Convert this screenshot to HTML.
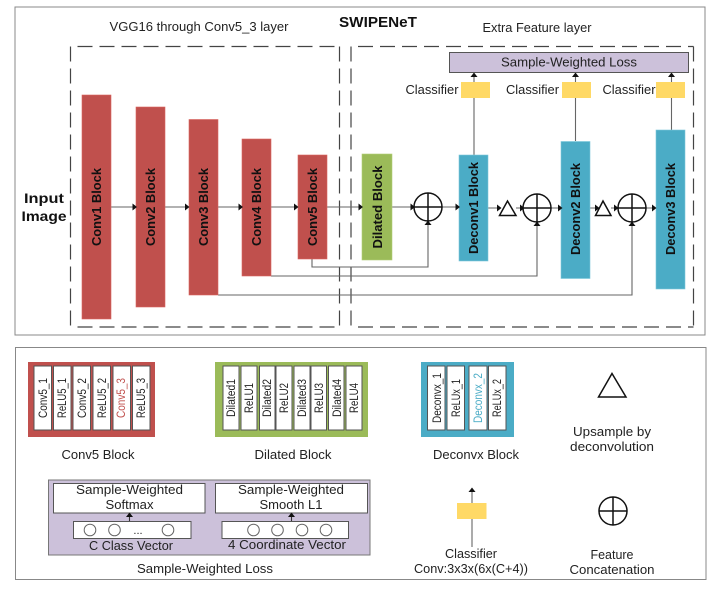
<!DOCTYPE html>
<html><head><meta charset="utf-8"><style>
html,body{margin:0;padding:0;background:#fff;width:718px;height:589px;overflow:hidden}
svg{display:block;filter:blur(.3px)}
text{font-family:"Liberation Sans","DejaVu Sans",sans-serif;fill:#222;font-size:12.5px;text-anchor:middle}
.b{font-weight:bold;fill:#111;font-size:13px}
.v{font-size:11.5px}
.l{fill:none;stroke:#666;stroke-width:1.1}
.k{fill:none;stroke:#111;stroke-width:1.5}
.cell{fill:#fff;stroke:#555;stroke-width:1}
.d{fill:none;stroke:#444;stroke-width:1.2;stroke-dasharray:15 7}
.t{stroke-dashoffset:15}
</style></head><body>
<svg width="718" height="589" viewBox="0 0 718 589" xmlns="http://www.w3.org/2000/svg">
<defs>
<polygon id="ar" points="0,-3.5 4.500,0 0,3.500" fill="#111"/>
<polygon id="au" points="-3.500,0 0,-4.500 3.500,0" fill="#111"/>
</defs>
<rect x="15" y="7" width="690" height="328" fill="#fff" stroke="#888" stroke-width="1"/>
<rect x="15.500" y="347.500" width="690.500" height="232" fill="#fff" stroke="#888" stroke-width="1"/>
<path class="d t" d="M70.500 46.500H339.500"/>
<path class="d" d="M70.500 46.500V327"/>
<path class="d" d="M339.500 46.500V327"/>
<path class="d t" d="M70.500 327H339.500"/>
<path class="d t" d="M351 46.500H693.500"/>
<path class="d" d="M351 46.500V327"/>
<path class="d" d="M693.500 46.500V327"/>
<path class="d t" d="M351 327H693.500"/>

<text x="199" y="31" textLength="179" lengthAdjust="spacingAndGlyphs">VGG16 through Conv5_3 layer</text>
<text x="378" y="27" class="b" style="font-size:15px" textLength="78" lengthAdjust="spacingAndGlyphs">SWIPENeT</text>
<text x="537" y="32" textLength="109" lengthAdjust="spacingAndGlyphs">Extra Feature layer</text>
<text x="44" y="203" class="b" style="font-size:14px" textLength="40" lengthAdjust="spacingAndGlyphs">Input</text>
<text x="44" y="221" class="b" style="font-size:14px" textLength="45" lengthAdjust="spacingAndGlyphs">Image</text>

<!-- connectors -->
<path class="l" d="M111 207H459M488 208H499M516 208H523M551 208H561M590 208H595M611 208H618M646 208H656"/>
<path class="l" d="M312 259V267H428V222M271 276H537V222M218 295H632V222"/>
<path class="l" d="M474 155V77M575.500 141V77M671.500 130V77"/>

<!-- blocks -->
<g fill="#c0504d" stroke="#d9645f" stroke-width=".6">
<rect x="82" y="95" width="29" height="224"/>
<rect x="136" y="107" width="29" height="200"/>
<rect x="189" y="119.500" width="29" height="175.500"/>
<rect x="242" y="139" width="29" height="137"/>
<rect x="298" y="155" width="29" height="104"/>
</g>
<rect x="362" y="154" width="30" height="106" fill="#9bbb59" stroke="#b4cf7a" stroke-width=".6"/>
<g fill="#4bacc6" stroke="#7cc8dc" stroke-width=".6">
<rect x="459" y="155" width="29" height="106"/>
<rect x="561" y="141.500" width="29" height="137"/>
<rect x="656" y="130" width="29" height="159"/>
</g>

<g>
<text class="b" transform="translate(101,207) rotate(-90)" textLength="78" lengthAdjust="spacingAndGlyphs">Conv1 Block</text>
<text class="b" transform="translate(155,207) rotate(-90)" textLength="78" lengthAdjust="spacingAndGlyphs">Conv2 Block</text>
<text class="b" transform="translate(208,207) rotate(-90)" textLength="78" lengthAdjust="spacingAndGlyphs">Conv3 Block</text>
<text class="b" transform="translate(261,207) rotate(-90)" textLength="78" lengthAdjust="spacingAndGlyphs">Conv4 Block</text>
<text class="b" transform="translate(317,207) rotate(-90)" textLength="78" lengthAdjust="spacingAndGlyphs">Conv5 Block</text>
<text class="b" transform="translate(382,207) rotate(-90)" textLength="83" lengthAdjust="spacingAndGlyphs">Dilated Block</text>
<text class="b" transform="translate(478,208) rotate(-90)" textLength="92" lengthAdjust="spacingAndGlyphs">Deconv1 Block</text>
<text class="b" transform="translate(580,209) rotate(-90)" textLength="92" lengthAdjust="spacingAndGlyphs">Deconv2 Block</text>
<text class="b" transform="translate(675,209) rotate(-90)" textLength="92" lengthAdjust="spacingAndGlyphs">Deconv3 Block</text>
</g>

<!-- arrowheads -->
<use href="#ar" x="132.500" y="207"/><use href="#ar" x="185" y="207"/><use href="#ar" x="238.500" y="207"/><use href="#ar" x="294" y="207"/><use href="#ar" x="358.500" y="207"/>
<use href="#ar" x="410.500" y="207"/><use href="#ar" x="455.500" y="207"/>
<use href="#ar" x="497" y="208"/><use href="#ar" x="520" y="208"/><use href="#ar" x="558" y="208"/>
<use href="#ar" x="595" y="208"/><use href="#ar" x="614" y="208"/><use href="#ar" x="652" y="208"/>
<use href="#au" x="428" y="225"/><use href="#au" x="537" y="226"/><use href="#au" x="632" y="226"/>
<use href="#au" x="474" y="77"/><use href="#au" x="575.500" y="77"/><use href="#au" x="671.500" y="77"/>

<!-- concat & upsample -->
<g class="k">
<circle cx="428" cy="207" r="14" fill="#fff"/><path d="M414 207H442M428 193V221"/>
<circle cx="537" cy="208" r="14" fill="#fff"/><path d="M523 208H551M537 194V222"/>
<circle cx="632" cy="208" r="14" fill="#fff"/><path d="M618 208H646M632 194V222"/>
<polygon points="507.500,201 516,215.500 499.500,215.500" fill="#fff"/>
<polygon points="603,201 611,215.500 595.500,215.500" fill="#fff"/>
</g>

<!-- loss + classifiers -->
<rect x="449.500" y="52.500" width="239" height="20" fill="#ccc1da" stroke="#555" stroke-width="1"/>
<text x="569" y="66.500" textLength="136" lengthAdjust="spacingAndGlyphs">Sample-Weighted Loss</text>
<g fill="#ffd966">
<rect x="461" y="82" width="29" height="16"/>
<rect x="562" y="82" width="29" height="16"/>
<rect x="656" y="82" width="29" height="16"/>
</g>
<text x="432" y="94" textLength="53" lengthAdjust="spacingAndGlyphs">Classifier</text>
<text x="532.500" y="94" textLength="53" lengthAdjust="spacingAndGlyphs">Classifier</text>
<text x="629" y="94" textLength="53" lengthAdjust="spacingAndGlyphs">Classifier</text>

<!-- legend: conv5 -->
<rect x="28" y="362" width="127" height="75" fill="#c0504d"/>
<g class="cell">
<rect x="34" y="366" width="17.500" height="64"/><rect x="53.500" y="366" width="17.500" height="64"/><rect x="73" y="366" width="17.500" height="64"/><rect x="93" y="366" width="17.500" height="64"/><rect x="113" y="366" width="17.500" height="64"/><rect x="132.500" y="366" width="17.500" height="64"/>
</g>
<g>
<text class="v" transform="translate(47,398) rotate(-90)" textLength="40" lengthAdjust="spacingAndGlyphs">Conv5_1</text>
<text class="v" transform="translate(66,398) rotate(-90)" textLength="40" lengthAdjust="spacingAndGlyphs">ReLU5_1</text>
<text class="v" transform="translate(86,398) rotate(-90)" textLength="40" lengthAdjust="spacingAndGlyphs">Conv5_2</text>
<text class="v" transform="translate(106,398) rotate(-90)" textLength="40" lengthAdjust="spacingAndGlyphs">ReLU5_2</text>
<text class="v" transform="translate(125,398) rotate(-90)" style="fill:#c0504d" textLength="40" lengthAdjust="spacingAndGlyphs">Conv5_3</text>
<text class="v" transform="translate(145,398) rotate(-90)" textLength="40" lengthAdjust="spacingAndGlyphs">ReLU5_3</text>
</g>
<text x="98" y="459" textLength="73" lengthAdjust="spacingAndGlyphs">Conv5 Block</text>

<!-- legend: dilated -->
<rect x="215" y="362" width="153" height="75" fill="#9bbb59"/>
<g class="cell">
<rect x="223" y="366" width="16" height="64"/><rect x="241" y="366" width="16" height="64"/><rect x="259.500" y="366" width="15.500" height="64"/><rect x="276" y="366" width="16" height="64"/><rect x="294" y="366" width="16" height="64"/><rect x="311" y="366" width="15.500" height="64"/><rect x="328.500" y="366" width="15.500" height="64"/><rect x="346" y="366" width="16" height="64"/>
</g>
<text class="v" transform="translate(235,398) rotate(-90)" textLength="38" lengthAdjust="spacingAndGlyphs">Dilated1</text>
<text class="v" transform="translate(253,398) rotate(-90)" textLength="30" lengthAdjust="spacingAndGlyphs">ReLU1</text>
<text class="v" transform="translate(271,398) rotate(-90)" textLength="38" lengthAdjust="spacingAndGlyphs">Dilated2</text>
<text class="v" transform="translate(288,398) rotate(-90)" textLength="30" lengthAdjust="spacingAndGlyphs">ReLU2</text>
<text class="v" transform="translate(306,398) rotate(-90)" textLength="38" lengthAdjust="spacingAndGlyphs">Dilated3</text>
<text class="v" transform="translate(323,398) rotate(-90)" textLength="30" lengthAdjust="spacingAndGlyphs">ReLU3</text>
<text class="v" transform="translate(341,398) rotate(-90)" textLength="38" lengthAdjust="spacingAndGlyphs">Dilated4</text>
<text class="v" transform="translate(358,398) rotate(-90)" textLength="30" lengthAdjust="spacingAndGlyphs">ReLU4</text>
<text x="293" y="459" textLength="77" lengthAdjust="spacingAndGlyphs">Dilated Block</text>

<!-- legend: deconv -->
<rect x="421" y="362" width="93" height="75" fill="#4bacc6"/>
<g class="cell">
<rect x="427.500" y="366" width="17.500" height="64"/><rect x="447" y="366" width="17.500" height="64"/><rect x="469" y="366" width="18" height="64"/><rect x="488.500" y="366" width="17.500" height="64"/>
</g>
<text class="v" transform="translate(441,398) rotate(-90)" textLength="50" lengthAdjust="spacingAndGlyphs">Deconvx_1</text>
<text class="v" transform="translate(460,398) rotate(-90)" textLength="38" lengthAdjust="spacingAndGlyphs">ReLUx_1</text>
<text class="v" transform="translate(482,398) rotate(-90)" style="fill:#4bacc6" textLength="50" lengthAdjust="spacingAndGlyphs">Deconvx_2</text>
<text class="v" transform="translate(501,398) rotate(-90)" textLength="38" lengthAdjust="spacingAndGlyphs">ReLUx_2</text>
<text x="476" y="459" textLength="86" lengthAdjust="spacingAndGlyphs">Deconvx Block</text>

<!-- legend: upsample -->
<polygon points="612,373.500 626,397 598.500,397" class="k" fill="#fff"/>
<text x="612" y="436" textLength="78" lengthAdjust="spacingAndGlyphs">Upsample by</text>
<text x="612" y="451" textLength="84" lengthAdjust="spacingAndGlyphs">deconvolution</text>

<!-- legend: classifier -->
<path class="l" d="M472 547V491"/>
<use href="#au" x="472" y="492"/>
<rect x="457" y="503" width="29.500" height="16" fill="#ffd966"/>
<text x="471" y="558" textLength="52" lengthAdjust="spacingAndGlyphs">Classifier</text>
<text x="471" y="573" textLength="114" lengthAdjust="spacingAndGlyphs">Conv:3x3x(6x(C+4))</text>

<!-- legend: feature concat -->
<g class="k"><circle cx="613" cy="511" r="14" fill="#fff"/><path d="M599 511H627M613 497V525"/></g>
<text x="612" y="559" textLength="43" lengthAdjust="spacingAndGlyphs">Feature</text>
<text x="612" y="574" textLength="85" lengthAdjust="spacingAndGlyphs">Concatenation</text>

<!-- legend: loss -->
<rect x="48.500" y="480" width="321.500" height="75" fill="#ccc1da" stroke="#777" stroke-width="1"/>
<g class="cell">
<rect x="53.500" y="483.500" width="151.500" height="29.500"/>
<rect x="215.500" y="483.500" width="152" height="29.500"/>
<rect x="73.500" y="521.500" width="117.500" height="17"/>
<rect x="222" y="521.500" width="126.500" height="17"/>
</g>
<text x="129.500" y="494" textLength="107" lengthAdjust="spacingAndGlyphs">Sample-Weighted</text>
<text x="129.500" y="509" textLength="48" lengthAdjust="spacingAndGlyphs">Softmax</text>
<text x="291" y="494" textLength="106" lengthAdjust="spacingAndGlyphs">Sample-Weighted</text>
<text x="291" y="509" textLength="63" lengthAdjust="spacingAndGlyphs">Smooth L1</text>
<path class="l" d="M129.500 521V515M291.500 521V515" style="stroke:#333"/>
<use href="#au" x="129.500" y="517"/><use href="#au" x="291.500" y="517"/>
<g fill="#fff" stroke="#666" stroke-width="1">
<circle cx="90" cy="530" r="5.800"/><circle cx="114.500" cy="530" r="5.800"/><circle cx="168" cy="530" r="5.800"/>
<circle cx="253.500" cy="530" r="5.800"/><circle cx="277.500" cy="530" r="5.800"/><circle cx="302" cy="530" r="5.800"/><circle cx="326" cy="530" r="5.800"/>
</g>
<text x="138" y="534" style="font-size:11px">...</text>
<text x="131" y="550" textLength="84" lengthAdjust="spacingAndGlyphs">C Class Vector</text>
<text x="287" y="549" textLength="118" lengthAdjust="spacingAndGlyphs">4 Coordinate Vector</text>
<text x="205" y="573" textLength="136" lengthAdjust="spacingAndGlyphs">Sample-Weighted Loss</text>
</svg>
</body></html>
